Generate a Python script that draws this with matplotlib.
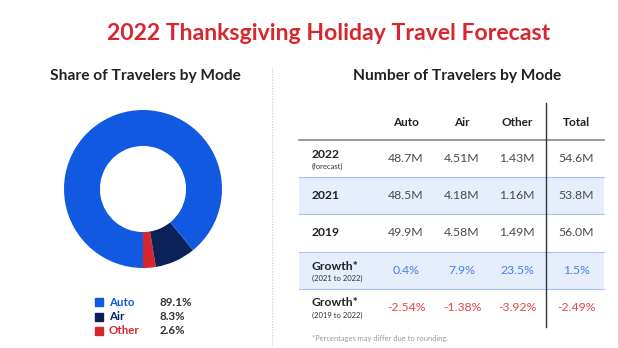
import matplotlib.pyplot as plt
from matplotlib.patches import Rectangle

plt.rcParams['font.family'] = ['Lato', 'DejaVu Sans']

# donut data
modes = ['Auto', 'Air', 'Other']
shares = [89.1, 8.3, 2.6]
mode_colors = ['#1159E0', '#0B2258', '#D7262D']

# table data
columns = ['Auto', 'Air', 'Other', 'Total']
row_labels = ['2022', '2021', '2019', 'Growth*', 'Growth*']
row_sublabels = ['(forecast)', '', '', '(2021 to 2022)', '(2019 to 2022)']
row_2022 = ['48.7M', '4.51M', '1.43M', '54.6M']
row_2021 = ['48.5M', '4.18M', '1.16M', '53.8M']
row_2019 = ['49.9M', '4.58M', '1.49M', '56.0M']
growth_21_22 = ['0.4%', '7.9%', '23.5%', '1.5%']
growth_19_22 = ['-2.54%', '-1.38%', '-3.92%', '-2.49%']
table_rows = [row_2022, row_2021, row_2019, growth_21_22, growth_19_22]

fig = plt.figure(figsize=(6.18, 3.48), dpi=100)

# background axes in pixel coords (y down)
bg = fig.add_axes([0, 0, 1, 1])
bg.set_xlim(0, 618)
bg.set_ylim(348, 0)
bg.axis('off')

bg.text(329, 33, '2022 Thanksgiving Holiday Travel Forecast', color='#D7262D',
        fontsize=16.6, fontweight='bold', ha='center', va='center')
bg.text(145, 76, 'Share of Travelers by Mode', color='#222222',
        fontsize=11.2, fontweight='bold', ha='center', va='center')
bg.text(457, 76, 'Number of Travelers by Mode', color='#222222',
        fontsize=11.2, fontweight='bold', ha='center', va='center')

# dotted separator
bg.plot([272, 272], [68, 346], color='#C8C8C8', lw=0.8, ls=(0, (1, 1.5)))

# donut
ax = fig.add_axes([(143 - 79) / 618, (348 - 189 - 79) / 348, 158 / 618, 158 / 348])
ax.pie(shares[::-1], colors=mode_colors[::-1], startangle=-90, counterclock=True,
       radius=1, wedgeprops=dict(width=0.455, linewidth=0))
ax.set_xlim(-1, 1)
ax.set_ylim(-1, 1)
ax.set_aspect('auto')

# legend
for i, (m, s, c) in enumerate(zip(modes, shares, mode_colors)):
    y = 302 + i * 14.5
    bg.add_patch(Rectangle((94.5, y - 4), 8, 8, color=c))
    bg.text(109, y, m, color=c, fontsize=8.3, fontweight='bold', va='center', ha='left')
    bg.text(160, y, f'{s}%', color='#333333', fontsize=8.3, fontweight='bold',
            va='center', ha='left')

# table
col_x = [406, 462, 517, 576]
x0, x1 = 299, 604
row_edges = [140, 177, 214, 252, 289, 326]
shaded = [False, True, False, True, False]

for cx, name in zip(col_x, columns):
    bg.text(cx, 122, name, color='#222222', fontsize=8.5, fontweight='bold',
            ha='center', va='center')

for i, vals in enumerate(table_rows):
    top, bot = row_edges[i], row_edges[i + 1]
    yc = (top + bot) / 2
    if shaded[i]:
        bg.add_patch(Rectangle((x0, top), x1 - x0, bot - top, color='#E6EEFB', lw=0))
        bg.plot([x0, x1], [top, top], color='#A8C3F2', lw=0.8)
        bg.plot([x0, x1], [bot, bot], color='#A8C3F2', lw=0.8)
    if row_sublabels[i]:
        bg.text(312, yc - 4.5, row_labels[i], color='#222222', fontsize=8.7,
                fontweight='bold', ha='left', va='center')
        bg.text(312, yc + 7.5, row_sublabels[i], color='#333333', fontsize=5.5,
                ha='left', va='center')
    else:
        bg.text(312, yc, row_labels[i], color='#222222', fontsize=8.7,
                fontweight='bold', ha='left', va='center')
    if i == 3:
        tc = '#4A7FEA'
    elif i == 4:
        tc = '#E5474B'
    else:
        tc = '#4A4A4A'
    for cx, v in zip(col_x, vals):
        bg.text(cx, yc, v, color=tc, fontsize=8.8, ha='center', va='center')

bg.plot([x0, x1], [140, 140], color='#9A9A9A', lw=1.4)
bg.plot([546, 546], [103, 327], color='#333333', lw=1)

bg.text(312, 338, '*Percentages may differ due to rounding.', color='#9A9A9A',
        fontsize=5.4, ha='left', va='center')

fig.savefig('out.png', dpi=100)
